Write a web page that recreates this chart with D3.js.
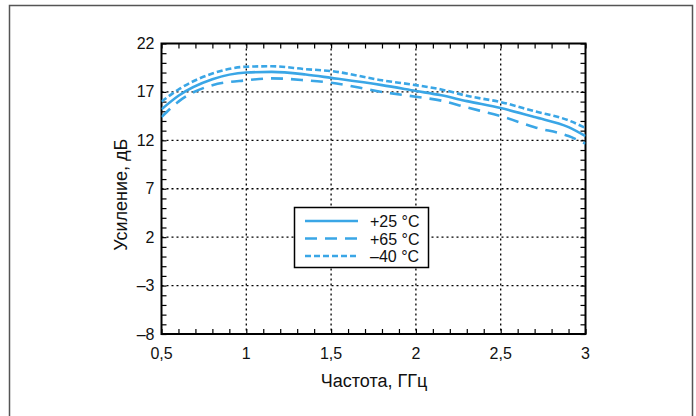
<!DOCTYPE html>
<html>
<head>
<meta charset="utf-8">
<script src="https://cdn.jsdelivr.net/npm/d3@7"></script>
<style>
  html, body { margin: 0; padding: 0; background: #fff; }
  svg { display: block; font-family: "Liberation Sans", Arial, sans-serif; }
</style>
</head>
<body>
<svg id="chart" width="696" height="416"></svg>
<script>
// Frequency points, GHz
const freq = [0.5, 0.6, 0.8, 1.0, 1.15, 1.35, 1.5, 1.8, 2.0, 2.15, 2.3, 2.5, 2.7, 2.9, 3.0];
// Gain, dB, per temperature
const gain25  = [15.2, 16.6, 18.3, 19.0, 19.07, 18.8, 18.45, 17.7, 17.1, 16.65, 16.05, 15.33, 14.4, 13.37, 12.44];
const gain65  = [14.4, 16.0, 17.7, 18.2, 18.4, 18.2, 17.95, 17.0, 16.5, 16.1, 15.4, 14.5, 13.35, 12.44, 11.66];
const gainM40 = [16.0, 17.25, 18.9, 19.6, 19.65, 19.35, 19.15, 18.2, 17.7, 17.25, 16.6, 15.95, 15.0, 14.06, 13.27];

const seriesNames = ["+25 °C", "+65 °C", "\u201340 °C"];
const xTicks = [0.5, 1, 1.5, 2, 2.5, 3];
const xTickLabels = ["0,5", "1", "1,5", "2", "2,5", "3"];
const yTicks = [-8, -3, 2, 7, 12, 17, 22];
const yTickLabels = ["\u20138", "\u20133", "2", "7", "12", "17", "22"];

(function () {
  const svg = d3.select("#chart");
  const color = "#3aa6e6";
  const pLeft = 161.5, pRight = 585.5, pTop = 43.5, pBottom = 334;

  const x = d3.scaleLinear().domain([0.5, 3]).range([pLeft, pRight]);
  const y = d3.scaleLinear().domain([-8, 22]).range([pBottom, pTop]);

  // outer frame
  svg.append("path")
    .attr("d", "M9.5,420 V5.5 H692.5 V420")
    .attr("fill", "none").attr("stroke", "#555").attr("stroke-width", 1.5);

  // dotted grid
  const grid = svg.append("g").attr("stroke", "#000").attr("stroke-width", 1.3)
    .attr("stroke-dasharray", "2,3");
  xTicks.slice(1, -1).forEach(v => {
    grid.append("line").attr("x1", x(v)).attr("x2", x(v)).attr("y1", pTop).attr("y2", pBottom);
  });
  yTicks.slice(1, -1).forEach(v => {
    grid.append("line").attr("x1", pLeft).attr("x2", pRight).attr("y1", y(v)).attr("y2", y(v));
  });

  // inward ticks on all four sides
  const xMinor = d3.range(0.5, 3.0001, 0.1);
  const yMinor = d3.range(-8, 22.0001, 1);
  const axB = d3.axisBottom(x).tickValues(xMinor).tickSize(-5).tickFormat("");
  const axT = d3.axisTop(x).tickValues(xMinor).tickSize(-5).tickFormat("");
  const axL = d3.axisLeft(y).tickValues(yMinor).tickSize(-5).tickFormat("");
  const axR = d3.axisRight(y).tickValues(yMinor).tickSize(-5).tickFormat("");
  [[axB, `translate(0,${pBottom})`], [axT, `translate(0,${pTop})`],
   [axL, `translate(${pLeft},0)`], [axR, `translate(${pRight},0)`]].forEach(([ax, tr]) => {
    const g = svg.append("g").attr("transform", tr).call(ax);
    g.select(".domain").remove();
    g.selectAll("line").attr("stroke", "#000").attr("stroke-width", 1.2);
  });

  // plot border
  svg.append("rect").attr("x", pLeft).attr("y", pTop)
    .attr("width", pRight - pLeft).attr("height", pBottom - pTop)
    .attr("fill", "none").attr("stroke", "#000").attr("stroke-width", 2);

  // tick labels
  svg.append("g").selectAll("text").data(xTicks).join("text")
    .attr("x", d => x(d)).attr("y", pBottom + 25)
    .attr("text-anchor", "middle").attr("font-size", 16).attr("fill", "#111")
    .text((d, i) => xTickLabels[i]);
  svg.append("g").selectAll("text").data(yTicks).join("text")
    .attr("x", pLeft - 7).attr("y", d => y(d) + 5.5)
    .attr("text-anchor", "end").attr("font-size", 16).attr("fill", "#111")
    .text((d, i) => yTickLabels[i]);

  // axis titles
  svg.append("text").attr("x", 374).attr("y", 387)
    .attr("text-anchor", "middle").attr("font-size", 18).attr("fill", "#111")
    .text("Частота, ГГц");
  svg.append("text").attr("transform", `translate(127,${(pTop + pBottom) / 2 + 6}) rotate(-90)`)
    .attr("text-anchor", "middle").attr("font-size", 18).attr("fill", "#111")
    .text("Усиление, дБ");

  // curves
  const dashes = [null, "12,8", "6,3"];
  const seriesData = [gain25, gain65, gainM40];
  const line = d3.line().x(d => x(d[0])).y(d => y(d[1])).curve(d3.curveMonotoneX);
  svg.append("clipPath").attr("id", "plotclip").append("rect")
    .attr("x", pLeft).attr("y", pTop).attr("width", pRight - pLeft).attr("height", pBottom - pTop);
  seriesData.forEach((vals, i) => {
    svg.append("path")
      .attr("d", line(freq.map((f, j) => [f, vals[j]])))
      .attr("fill", "none").attr("stroke", color).attr("stroke-width", 2.6)
      .attr("stroke-dasharray", dashes[i])
      .attr("clip-path", "url(#plotclip)");
  });

  // legend
  const lg = svg.append("g");
  lg.append("rect").attr("x", 294.5).attr("y", 207.5).attr("width", 134).attr("height", 60)
    .attr("fill", "#fff").attr("stroke", "#000").attr("stroke-width", 1.5);
  seriesNames.forEach((name, i) => {
    const yy = 221 + i * 17.5;
    lg.append("line").attr("x1", 305).attr("x2", 358).attr("y1", yy).attr("y2", yy)
      .attr("stroke", color).attr("stroke-width", 2.6).attr("stroke-dasharray", dashes[i]);
    lg.append("text").attr("x", 370).attr("y", yy + 6)
      .attr("font-size", 16).attr("fill", "#111").text(name);
  });
})();
</script>
</body>
</html>
